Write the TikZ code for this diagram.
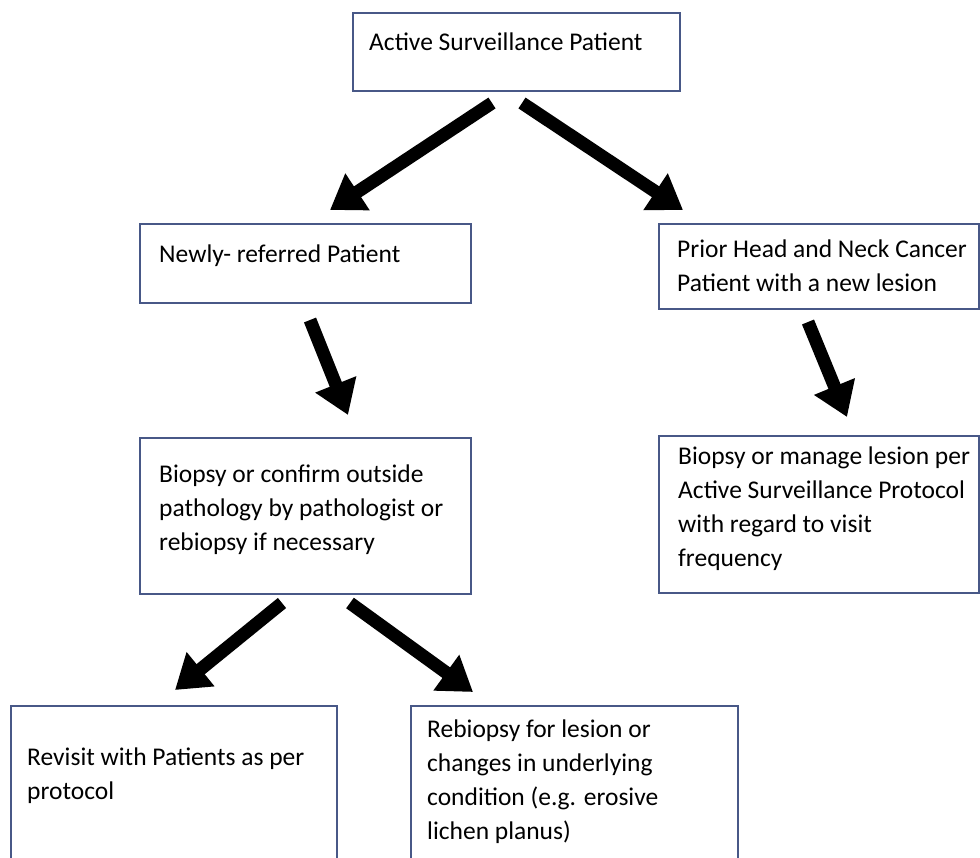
\documentclass[tikz,border=0pt]{standalone}
\usepackage{fontspec}
\setmainfont{Carlito}
\usetikzlibrary{arrows.meta}
\definecolor{boxblue}{RGB}{72,88,135}
\begin{document}
\begin{tikzpicture}[x=1pt,y=-1pt,
  boxnode/.style={draw=boxblue, line width=1.8pt, anchor=north west, inner sep=0pt, fill=white},
  txt/.style={anchor=base west, align=left, inner sep=0pt, font=\fontsize{25.5}{34}\selectfont},
  fat/.style={line width=13pt, -{Triangle[length=33pt,width=42pt]}}]
\useasboundingbox (0,0) rectangle (980,858);
% boxes
\node[boxnode, minimum width=327pt, minimum height=78pt] (b1) at (352,12) {};
\node[boxnode, minimum width=331pt, minimum height=79pt] (b2) at (139,223) {};
\node[boxnode, minimum width=320pt, minimum height=85pt] (b3) at (658,223) {};
\node[boxnode, minimum width=331pt, minimum height=156pt] (b4) at (139,437) {};
\node[boxnode, minimum width=320pt, minimum height=157pt] (b5) at (658,435) {};
\node[boxnode, minimum width=326pt, minimum height=170pt] (b6) at (10,705) {};
\node[boxnode, minimum width=327pt, minimum height=170pt] (b7) at (410,705) {};
% texts (base = last line's baseline)
\node[txt] (t1) at (369,51) {Active Surveillance Patient};
\node[txt] (t2) at (159,263) {Newly- referred Patient};
\node[txt] (t3) at (677,292) {Prior Head and Neck Cancer\\Patient with a  new lesion};
\node[txt] (t4) at (159,550) {Biopsy or confirm outside\\pathology by pathologist or\\rebiopsy if necessary};
\node[txt] (t5) at (678,566) {Biopsy or manage lesion per\\Active Surveillance Protocol\\with regard to visit\\frequency};
\node[txt] (t6) at (27,799) {Revisit with Patients as per\\protocol};
\node[txt] (t7) at (427,839) {Rebiopsy  for lesion or\\changes in  underlying\\condition (e.g. erosive\\lichen planus)};
% arrow end points
\coordinate (a1s) at (492,103); \coordinate (a1e) at (330,210);
\coordinate (a2s) at (522,103); \coordinate (a2e) at (683,210);
\coordinate (a3s) at (310,320); \coordinate (a3e) at (348,415);
\coordinate (a4s) at (808,322); \coordinate (a4e) at (847,417);
\coordinate (a5s) at (282,603); \coordinate (a5e) at (175,690);
\coordinate (a6s) at (350,603); \coordinate (a6e) at (473,692);
\draw[fat] (a1s) -- (a1e);
\draw[fat] (a2s) -- (a2e);
\draw[fat] (a3s) -- (a3e);
\draw[fat] (a4s) -- (a4e);
\draw[fat] (a5s) -- (a5e);
\draw[fat] (a6s) -- (a6e);
\end{tikzpicture}
\end{document}
